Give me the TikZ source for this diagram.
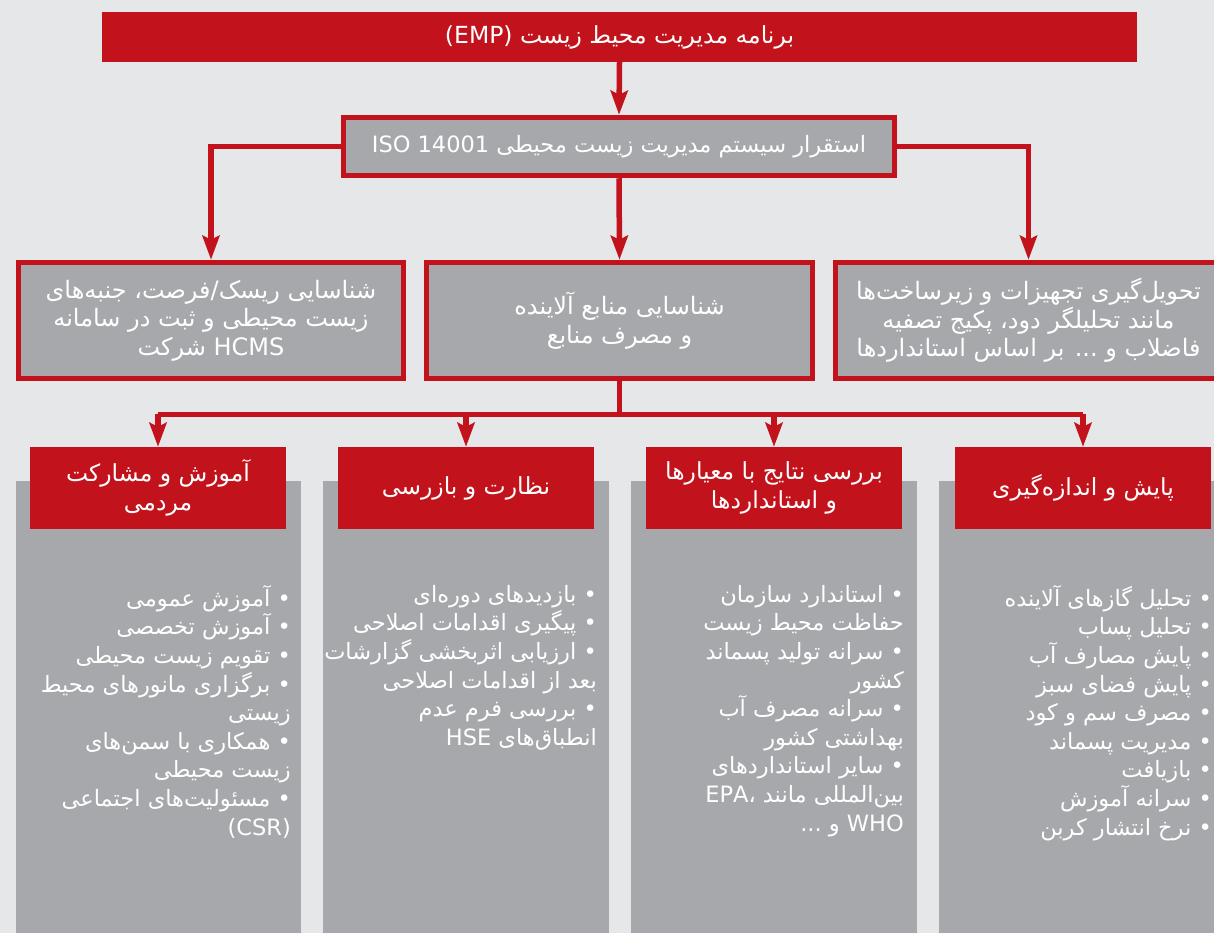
\documentclass[tikz,border=0pt]{standalone}
\usepackage{fontspec}
\setmainfont{DejaVu Sans}
\newfontfamily\farsi[Script=Arabic]{DejaVu Sans}
\TeXXeTstate=1
\usetikzlibrary{arrows.meta}
\definecolor{empred}{HTML}{C2121C}
\definecolor{empgray}{HTML}{A7A8AB}
\definecolor{empback}{HTML}{E6E7E9}
\newcommand\fline[1]{\beginR #1\endR}
\newcommand\lat[1]{\beginL #1\endL{}}

\begin{document}
\begin{tikzpicture}[x=1pt,y=-1pt,
  redbox/.style={fill=empred,text=white,align=center,inner sep=0pt,
    font=\farsi\fontsize{23.5}{28.5}\selectfont},
  graybox/.style={fill=empgray,draw=empred,line width=5.5pt,text=white,align=center,
    inner sep=0pt,font=\farsi\fontsize{24}{28.5}\selectfont},
  column/.style={fill=empgray},
  items/.style={text=white,align=right,anchor=north east,inner sep=0pt,
    font=\farsi\fontsize{22.5}{28.6}\selectfont},
  link/.style={draw=empred,line width=5.5pt},
  conn/.style={link,-{Stealth[length=24pt,width=17pt,inset=4pt]}}]
\path[use as bounding box] (0,0) rectangle (1214,933);
\clip (0,0) rectangle (1214,933);
\fill[empback] (0,0) rectangle (1214,933);

\node[redbox,minimum width=1035,minimum height=50] (emp) at (619.5,37)
  {\fline{برنامه مدیریت محیط زیست \lat{(EMP)}}};
\node[graybox,minimum width=551,minimum height=58,font=\farsi\fontsize{22.5}{28}\selectfont] (iso) at (619,146.5)
  {\fline{استقرار سیستم مدیریت زیست محیطی \lat{ISO 14001}}};

\node[graybox,minimum width=385,minimum height=116] (risk) at (211,320.5)
  {\fline{شناسایی ریسک/فرصت، جنبه‌های}\\\fline{زیست محیطی و ثبت در سامانه}\\\fline{\lat{HCMS} شرکت}};
\node[graybox,minimum width=386,minimum height=116] (source) at (619.5,320.5)
  {\fline{شناسایی منابع آلاینده}\\\fline{و مصرف منابع}};
\node[graybox,minimum width=386,minimum height=116] (equip) at (1028.5,320.5)
  {\fline{تحویل‌گیری تجهیزات و زیرساخت‌ها}\\\fline{مانند تحلیلگر دود، پکیج تصفیه}\\\fline{فاضلاب و ... بر اساس استانداردها}};

\fill[column] (16,481) rectangle (301,940);
\fill[column] (323,481) rectangle (609,940);
\fill[column] (631,481) rectangle (917,940);
\fill[column] (939,481) rectangle (1230,940);

\node[redbox,minimum width=256,minimum height=82] (edu) at (158,488)
  {\fline{آموزش و مشارکت}\\\fline{مردمی}};
\node[redbox,minimum width=256,minimum height=82] (insp) at (466,488)
  {\fline{نظارت و بازرسی}};
\node[redbox,minimum width=256,minimum height=82] (review) at (774,488)
  {\fline{بررسی نتایج با معیارها}\\\fline{و استانداردها}};
\node[redbox,minimum width=256,minimum height=82] (monitor) at (1083,488)
  {\fline{پایش و اندازه‌گیری}};

\node[items] (eduList) at (291,585)
  {\fline{• آموزش عمومی}\\\fline{• آموزش تخصصی}\\\fline{• تقویم زیست محیطی}\\
   \fline{• برگزاری مانورهای محیط}\\\fline{زیستی}\\\fline{• همکاری با سمن‌های}\\
   \fline{زیست محیطی}\\\fline{• مسئولیت‌های اجتماعی}\\\fline{\lat{(CSR)}}};
\node[items] (inspList) at (597,585)
  {\fline{• بازدیدهای دوره‌ای}\\\fline{• پیگیری اقدامات اصلاحی}\\\fline{• ارزیابی اثربخشی گزارشات}\\
   \fline{بعد از اقدامات اصلاحی}\\\fline{• بررسی فرم عدم}\\\fline{انطباق‌های \lat{HSE}}};
\node[items] (reviewList) at (904,585)
  {\fline{• استاندارد سازمان}\\\fline{حفاظت محیط زیست}\\\fline{• سرانه تولید پسماند}\\
   \fline{کشور}\\\fline{• سرانه مصرف آب}\\\fline{بهداشتی کشور}\\\fline{• سایر استانداردهای}\\
   \fline{بین‌المللی مانند ،\lat{EPA}}\\\fline{\lat{WHO} و ...}};
\node[items] (monitorList) at (1212,585)
  {\fline{• تحلیل گازهای آلاینده}\\\fline{• تحلیل پساب}\\\fline{• پایش مصارف آب}\\
   \fline{• پایش فضای سبز}\\\fline{• مصرف سم و کود}\\\fline{• مدیریت پسماند}\\
   \fline{• بازیافت}\\\fline{• سرانه آموزش}\\\fline{• نرخ انتشار کربن}};

\draw[conn] (emp.south) -- (iso.north);
\draw[conn] (iso.west) -| (risk.north);
\draw[conn] (iso.south) -- (source.north);
\draw[conn] (iso.east) -| (equip.north);
\draw[link] (source.south) -- ++(0,33) coordinate (split);
\draw[link] (edu.north |- split) -- (monitor.north |- split);
\foreach \h in {edu,insp,review,monitor}
  \draw[conn] (\h.north |- split) -- (\h.north);
\end{tikzpicture}
\end{document}
